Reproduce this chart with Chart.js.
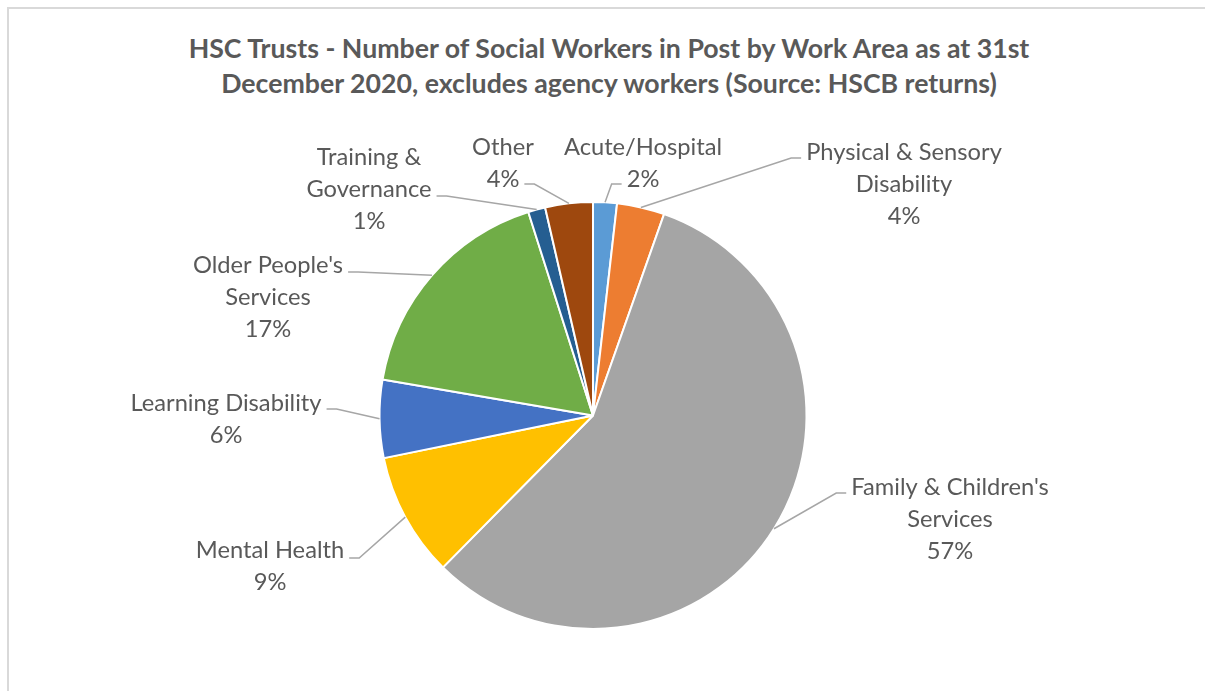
<!DOCTYPE html>
<html><head><meta charset="utf-8">
<script src="https://cdn.jsdelivr.net/npm/chart.js@4.4.1/dist/chart.umd.min.js"></script>
<style>
html,body{margin:0;padding:0;background:#fff;}
#wrap{position:relative;width:1205px;height:691px;overflow:hidden;}
#frame{position:absolute;left:7px;top:7px;right:-10px;bottom:-10px;border-top:2px solid #d9d9d9;border-left:2px solid #d9d9d9;}
#title{position:absolute;left:0;width:1218px;top:31px;text-align:center;font:bold 26.7px 'Lato';color:#595959;line-height:35px;white-space:nowrap;}
canvas{position:absolute;left:0;top:0;}
</style></head>
<body><div id="wrap"><div id="frame"></div>
<div id="title">HSC Trusts - Number of Social Workers in Post by Work Area as at 31st<br>December 2020, excludes agency workers (Source: HSCB returns)</div>
<canvas id="c" width="1205" height="691"></canvas></div>
<script>
// ---- data ----
const categories = [
  ['Acute/Hospital'],
  ['Physical & Sensory', 'Disability'],
  ["Family & Children's", 'Services'],
  ['Mental Health'],
  ['Learning Disability'],
  ["Older People's", 'Services'],
  ['Training &', 'Governance'],
  ['Other']
];
const shares = [1.8, 3.6, 57.0, 9.4, 5.9, 17.4, 1.3, 3.6]; // % of social workers
const colors = ['#5B9BD5', '#ED7D31', '#A5A5A5', '#FFC000', '#4472C4', '#70AD47', '#255E91', '#9E480E'];

// ---- label layout (offsets from pie centre) ----
const labelLayout = [
  {dx: 50,   dy: -268.5, attach: 1, ly: 5},
  {dx: 311,  dy: -263.5, attach: 0, ly: 6},
  {dx: 357,  dy: 71.5,   attach: 0, ly: 6},
  {dx: -323, dy: 134.5,  attach: 0, ly: 8},
  {dx: -367, dy: -12.5,  attach: 0, ly: 6},
  {dx: -325, dy: -150.5, attach: 0, ly: 7},
  {dx: -224, dy: -258.5, attach: 1, ly: 7},
  {dx: -90,  dy: -268.5, attach: 1, ly: 5}
];
const LABEL_FONT = "23.7px 'Lato'";
const LINE_H = 32;

const labelPlugin = {
  id: 'pieLabels',
  afterDatasetsDraw(chart) {
    const ctx = chart.ctx;
    const meta = chart.getDatasetMeta(0);
    const data = chart.data.datasets[0].data;
    const total = data.reduce((a, b) => a + b, 0);
    ctx.save();
    ctx.font = LABEL_FONT;
    meta.data.forEach((arc, i) => {
      const p = arc.getProps(['x', 'y', 'startAngle', 'endAngle', 'outerRadius'], true);
      const mid = (p.startAngle + p.endAngle) / 2;
      const px = p.x + Math.cos(mid) * p.outerRadius;
      const py = p.y + Math.sin(mid) * p.outerRadius;
      const L = labelLayout[i];
      const lines = [...chart.data.labels[i], Math.round(data[i] / total * 100) + '%'];
      const cx = p.x + L.dx, y1 = p.y + L.dy;
      ctx.fillStyle = '#595959';
      ctx.textAlign = 'center';
      ctx.textBaseline = 'middle';
      lines.forEach((t, k) => ctx.fillText(t, cx, y1 + k * LINE_H));
      const w = ctx.measureText(lines[L.attach]).width;
      const side = px < cx ? 1 : -1;
      const ax = side > 0 ? cx - w / 2 - 5 : cx + w / 2 + 5;
      const ay = y1 + L.attach * LINE_H + L.ly;
      const ex = ax - side * 10;
      ctx.strokeStyle = '#a6a6a6';
      ctx.lineWidth = 1.5;
      ctx.beginPath();
      ctx.moveTo(ax, ay);
      ctx.lineTo(ex, ay);
      ctx.lineTo(px, py);
      ctx.stroke();
    });
    ctx.restore();
  }
};

new Chart(document.getElementById('c'), {
  type: 'pie',
  data: {
    labels: categories,
    datasets: [{
      data: shares,
      backgroundColor: colors,
      borderColor: '#ffffff',
      borderWidth: 2
    }]
  },
  options: {
    responsive: false,
    animation: false,
    layout: {padding: {left: 378.5, right: 397.5, top: 201, bottom: 61}},
    plugins: {legend: {display: false}, tooltip: {enabled: false}, title: {display: false}}
  },
  plugins: [labelPlugin]
});
</script>
</body></html>
